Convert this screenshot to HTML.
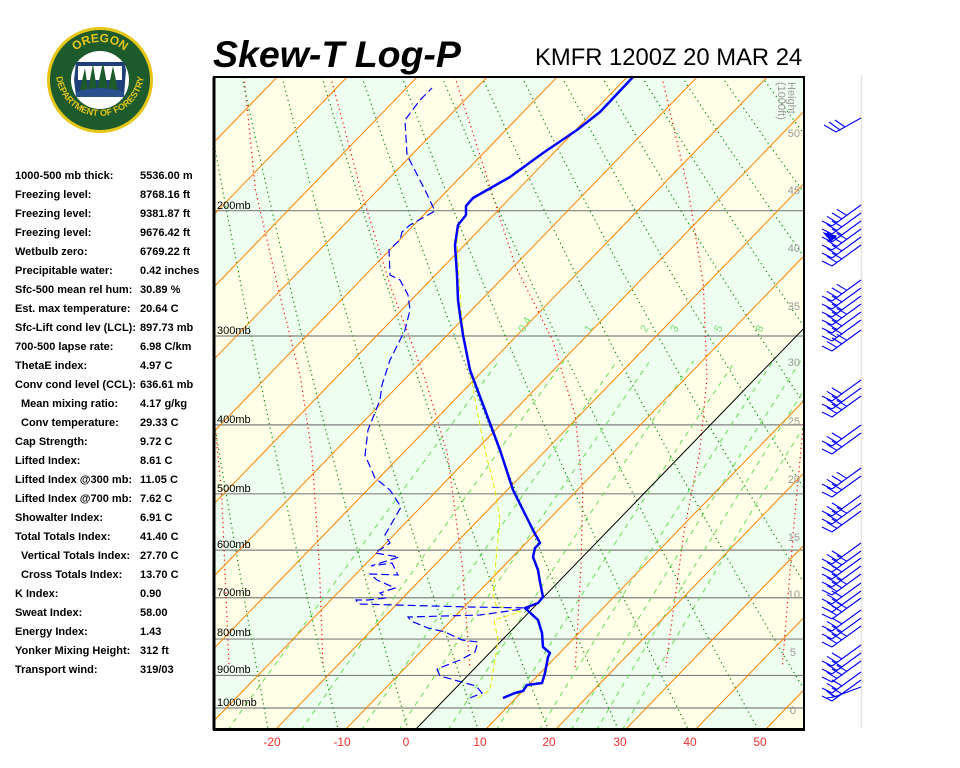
<!DOCTYPE html>
<html><head><meta charset="utf-8">
<style>
html,body{margin:0;padding:0;background:#fff;}
body{width:960px;height:768px;overflow:hidden;position:relative;font-family:"Liberation Sans",Arial,sans-serif;}
.t{position:absolute;font-size:11px;font-weight:bold;color:#000;white-space:nowrap;line-height:13px;}
</style></head><body>
<svg id="s" width="960" height="768" xmlns="http://www.w3.org/2000/svg" style="position:absolute;left:0;top:0">
<defs><clipPath id="c"><rect x="214" y="77" width="590" height="652"/></clipPath>
<path id="arcTop" d="M62,80 A38,38 0 0 1 138,80"/>
<path id="arcBot" d="M56,72 A44,44 0 0 0 144,72"/>
</defs>
<g id="bands" clip-path="url(#c)"></g>
<g id="grid" clip-path="url(#c)"></g>
<g id="prof" clip-path="url(#c)"></g>
<g font-family="Liberation Sans,Arial,sans-serif" font-size="11" fill="#000">
<text x="217" y="209">200mb</text><text x="217" y="334">300mb</text><text x="217" y="423">400mb</text>
<text x="217" y="492">500mb</text><text x="217" y="548">600mb</text><text x="217" y="596">700mb</text>
<text x="217" y="636">800mb</text><text x="217" y="673">900mb</text><text x="217" y="706">1000mb</text>
</g>
<g font-family="Liberation Sans,Arial,sans-serif" font-size="11" fill="#77dd77">
<text transform="translate(524,333) rotate(-60)">0.4</text>
<text transform="translate(590,333) rotate(-60)">1</text>
<text transform="translate(646,333) rotate(-60)">2</text>
<text transform="translate(676,333) rotate(-60)">3</text>
<text transform="translate(720,333) rotate(-60)">5</text>
<text transform="translate(761,333) rotate(-60)">8</text>
</g>
<g font-family="Liberation Sans,Arial,sans-serif" font-size="11" fill="#999" text-anchor="end">
<text x="800" y="137">50</text><text x="800" y="194">45</text><text x="800" y="252">40</text>
<text x="800" y="310">35</text><text x="800" y="366">30</text><text x="800" y="425">25</text>
<text x="800" y="483">20</text><text x="800" y="541">15</text><text x="800" y="598">10</text>
<text x="796" y="656">5</text><text x="796" y="714">0</text>
<text transform="translate(788,82) rotate(90)" text-anchor="start">Height</text>
<text transform="translate(778,82) rotate(90)" text-anchor="start">(1000ft)</text>
</g>
<rect x="214" y="77" width="590" height="652" fill="none" stroke="#000" stroke-width="2"/>
<line x1="214" y1="77" x2="214" y2="730" stroke="#000" stroke-width="3"/>
<line x1="213" y1="729.5" x2="805" y2="729.5" stroke="#000" stroke-width="3"/>
<line x1="861.5" y1="75" x2="861.5" y2="728" stroke="#e4e4e4" stroke-width="1.5"/>
<g font-family="Liberation Sans,Arial,sans-serif" font-size="12" fill="#f03030" text-anchor="middle">
<text x="272" y="746">-20</text><text x="342" y="746">-10</text><text x="406" y="746">0</text>
<text x="480" y="746">10</text><text x="549" y="746">20</text><text x="620" y="746">30</text>
<text x="690" y="746">40</text><text x="760" y="746">50</text>
</g>
<g id="barbs" stroke="#0000ff" stroke-width="1.1" fill="none"></g>
<text x="213" y="67" font-family="Liberation Sans,Arial,sans-serif" font-size="37.5" font-weight="bold" font-style="italic">Skew-T Log-P</text>
<text x="535" y="65" font-family="Liberation Sans,Arial,sans-serif" font-size="23.8">KMFR 1200Z 20 MAR 24</text>
<g>
<circle cx="100" cy="80" r="53" fill="#e6c619"/>
<circle cx="100" cy="80" r="50" fill="#1d5a2c"/>
<circle cx="100" cy="80" r="29" fill="#fff"/>
<path d="M76,62 L124,62 L126,70 L124,96 L76,96 L74,80 Z" fill="#1f3f78"/>
<path d="M78,66 L122,66 L122,80 L78,80 Z" fill="#fff"/>
<path d="M80,90 L85,68 L88,90 Z M88,90 L93,64 L97,90 Z M97,90 L103,62 L108,90 Z M108,90 L113,66 L118,90 Z" fill="#1d5a2c"/>
<path d="M76,92 Q100,84 124,92 L124,97 L76,97 Z" fill="#2a4f8f"/>
<g font-family="Liberation Sans,Arial,sans-serif" font-weight="bold" fill="#e6c619">
<text font-size="12"><textPath href="#arcTop" startOffset="50%" text-anchor="middle">OREGON</textPath></text>
<text font-size="9"><textPath href="#arcBot" startOffset="50%" text-anchor="middle">DEPARTMENT OF FORESTRY</textPath></text>
</g>
</g>
</svg>
<div class="t" style="left:15px;top:170px">1000-500 mb thick:</div><div class="t" style="left:140px;top:170px">5536.00 m</div>
<div class="t" style="left:15px;top:189px">Freezing level:</div><div class="t" style="left:140px;top:189px">8768.16 ft</div>
<div class="t" style="left:15px;top:208px">Freezing level:</div><div class="t" style="left:140px;top:208px">9381.87 ft</div>
<div class="t" style="left:15px;top:227px">Freezing level:</div><div class="t" style="left:140px;top:227px">9676.42 ft</div>
<div class="t" style="left:15px;top:246px">Wetbulb zero:</div><div class="t" style="left:140px;top:246px">6769.22 ft</div>
<div class="t" style="left:15px;top:265px">Precipitable water:</div><div class="t" style="left:140px;top:265px">0.42 inches</div>
<div class="t" style="left:15px;top:284px">Sfc-500 mean rel hum:</div><div class="t" style="left:140px;top:284px">30.89 %</div>
<div class="t" style="left:15px;top:303px">Est. max temperature:</div><div class="t" style="left:140px;top:303px">20.64 C</div>
<div class="t" style="left:15px;top:322px">Sfc-Lift cond lev (LCL):</div><div class="t" style="left:140px;top:322px">897.73 mb</div>
<div class="t" style="left:15px;top:341px">700-500 lapse rate:</div><div class="t" style="left:140px;top:341px">6.98 C/km</div>
<div class="t" style="left:15px;top:360px">ThetaE index:</div><div class="t" style="left:140px;top:360px">4.97 C</div>
<div class="t" style="left:15px;top:379px">Conv cond level (CCL):</div><div class="t" style="left:140px;top:379px">636.61 mb</div>
<div class="t" style="left:21px;top:398px">Mean mixing ratio:</div><div class="t" style="left:140px;top:398px">4.17 g/kg</div>
<div class="t" style="left:21px;top:417px">Conv temperature:</div><div class="t" style="left:140px;top:417px">29.33 C</div>
<div class="t" style="left:15px;top:436px">Cap Strength:</div><div class="t" style="left:140px;top:436px">9.72 C</div>
<div class="t" style="left:15px;top:455px">Lifted Index:</div><div class="t" style="left:140px;top:455px">8.61 C</div>
<div class="t" style="left:15px;top:474px">Lifted Index @300 mb:</div><div class="t" style="left:140px;top:474px">11.05 C</div>
<div class="t" style="left:15px;top:493px">Lifted Index @700 mb:</div><div class="t" style="left:140px;top:493px">7.62 C</div>
<div class="t" style="left:15px;top:512px">Showalter Index:</div><div class="t" style="left:140px;top:512px">6.91 C</div>
<div class="t" style="left:15px;top:531px">Total Totals Index:</div><div class="t" style="left:140px;top:531px">41.40 C</div>
<div class="t" style="left:21px;top:550px">Vertical Totals Index:</div><div class="t" style="left:140px;top:550px">27.70 C</div>
<div class="t" style="left:21px;top:569px">Cross Totals Index:</div><div class="t" style="left:140px;top:569px">13.70 C</div>
<div class="t" style="left:15px;top:588px">K Index:</div><div class="t" style="left:140px;top:588px">0.90</div>
<div class="t" style="left:15px;top:607px">Sweat Index:</div><div class="t" style="left:140px;top:607px">58.00</div>
<div class="t" style="left:15px;top:626px">Energy Index:</div><div class="t" style="left:140px;top:626px">1.43</div>
<div class="t" style="left:15px;top:645px">Yonker Mixing Height:</div><div class="t" style="left:140px;top:645px">312 ft</div>
<div class="t" style="left:15px;top:664px">Transport wind:</div><div class="t" style="left:140px;top:664px">319/03</div>
<script>
(function(){
var NS="http://www.w3.org/2000/svg";
function el(g,tag,a){var e=document.createElementNS(NS,tag);for(var k in a)e.setAttribute(k,a[k]);g.appendChild(e);return e;}
var Y=function(p){return 708-309*Math.log(1000/p);};
var X=function(T,p){return 416+7*T+0.968*(729-Y(p));};
var PB=1075,PT=128;
var bands=document.getElementById('bands'),grid=document.getElementById('grid'),prof=document.getElementById('prof');
el(bands,'rect',{x:214,y:77,width:590,height:652,fill:'#efffef'});
for(var T=-140;T<=60;T+=10){
 var odd=Math.abs(Math.floor(T/10))%2==1;
 if(!odd)continue;
 var pts=[X(T,PB),Y(PB),X(T+10,PB),Y(PB),X(T+10,PT),Y(PT),X(T,PT),Y(PT)].map(function(v){return v.toFixed(1)}).join(' ');
 el(bands,'polygon',{points:pts,fill:'#ffffe8'});
}
function poly(g,arr,st){var s=arr.map(function(q){return q[0].toFixed(1)+','+q[1].toFixed(1)}).join(' ');var a={points:s,fill:'none'};for(var k in st)a[k]=st[k];return el(g,'polyline',a);}
[1000,900,800,700,600,500,400,300,200].forEach(function(p){el(grid,'line',{x1:214,x2:804,y1:Y(p),y2:Y(p),stroke:'#808080','stroke-width':1.2});});
[0.4,1,2,3,5,8,12,16,20,25].forEach(function(w){var a=[];for(var p=PB;p>=320;p-=10){var e=w*p/(622+w);var l=Math.log(e/6.112);var Td=243.5*l/(17.67-l);a.push([X(Td,p),Y(p)]);}poly(grid,a,{stroke:'#66dd55','stroke-width':1,'stroke-dasharray':'5,5'});});
var f=2.657;
var reds=[
[[80,0],[110,300],[170,560],[230,800],[260,1000],[280,1300],[290,1568]],
[[310,0],[390,300],[470,560],[560,800],[620,1000],[660,1300],[680,1568]],
[[640,0],[720,250],[800,500],[900,700],[960,900],[980,1100],[975,1300],[960,1568]],
[[1190,0],[1260,300],[1300,550],[1310,800],[1290,1000],[1250,1200],[1200,1568]],
[[1600,600],[1568,900],[1540,1200],[1510,1568]],
[[-60,300],[-20,700],[20,1100],[40,1568]]];
reds.forEach(function(r){poly(grid,r.map(function(q){return [214+q[0]/f,77+q[1]/f];}),{stroke:'#ff0000','stroke-width':1.2,'stroke-dasharray':'1.2,3.5'});});
for(var k=-8;k<=14;k++){var xt=282+40*k,xb=478+70*k;var a=[];for(var i=0;i<=10;i++){var u=i/10;a.push([xt+(xb-xt)*(u*0.85+0.15*u*u),77+652*u]);}poly(grid,a,{stroke:'#008800','stroke-width':1.2,'stroke-dasharray':'1.2,3.5'});}
for(var T=-140;T<=60;T+=10){el(grid,'line',{x1:X(T,PB),y1:Y(PB),x2:X(T,PT),y2:Y(PT),stroke:T==0?'#000':'#ff8000','stroke-width':1});}
var yel=[[478,698],[490,690],[495,660],[498,640],[494,620],[520,612],[496,605],[493,595],[496,560],[500,520],[495,490],[485,450],[475,400],[468,360],[462,320],[459,280],[457,240],[459,225]];
poly(prof,yel,{stroke:'#e8e800','stroke-width':1,'stroke-dasharray':'5,3'});
var dew=[[470,698],[482,693],[476,686],[458,681],[440,676],[437,669],[460,660],[475,652],[478,642],[462,640],[445,632],[428,628],[411,621],[408,617],[480,615],[530,608],[470,607],[358,604],[356,600],[368,600],[386,598],[380,593],[395,588],[377,580],[370,574],[398,575],[392,563],[371,566],[399,557],[375,553],[390,543],[385,535],[401,507],[390,490],[375,478],[365,455],[368,430],[380,400],[382,385],[390,360],[405,330],[410,310],[408,295],[400,280],[390,275],[389,250],[400,240],[402,232],[410,225],[435,211],[425,190],[407,155],[405,120],[420,100],[432,88]];
poly(prof,dew,{stroke:'#0000ff','stroke-width':1.2,'stroke-dasharray':'8,4'});
var tmp=[[503,698],[515,693],[523,691],[527,685],[542,683],[545,673],[548,657],[550,653],[543,647],[542,633],[538,620],[525,608],[538,603],[543,597],[540,582],[538,570],[533,557],[535,548],[540,543],[533,530],[528,520],[513,490],[500,450],[485,410],[470,370],[463,335],[460,315],[458,300],[457,275],[455,245],[458,225],[462,220],[466,215],[466,206],[473,198],[510,177],[543,153],[577,130],[600,112],[633,77]];
poly(prof,tmp,{stroke:'#0000ff','stroke-width':2.5,'stroke-linejoin':'round'});
var bg=document.getElementById('barbs');
var tops=[205,213,221,229,237,245,280,288,296,304,312,320,330,380,388,396,425,433,468,476,495,503,511,543,551,558,566,574,583,591,598,610,618,626,645,653,661,672,680];
tops.forEach(function(t,i){
 var x0=861,y0=t,x1=832,y1=t+21;
 el(bg,'line',{x1:x0,y1:y0,x2:x1,y2:y1});
 var n=(i%3==0)?4:3;
 for(var k=0;k<n;k++){var fr=1-k*0.17;var bx=x0+(x1-x0)*fr,by=y0+(y1-y0)*fr;el(bg,'line',{x1:bx,y1:by,x2:bx-10,y2:by-(k==0?5:6)});}
});
el(bg,'line',{x1:861,y1:118,x2:836,y2:132});
el(bg,'line',{x1:836,y1:132,x2:824,y2:125});el(bg,'line',{x1:840,y1:130,x2:829,y2:122});el(bg,'line',{x1:845,y1:127,x2:835,y2:120});
el(bg,'polygon',{points:'824,233 836,236 831,241',fill:'#0000ff'});
el(bg,'line',{x1:861,y1:687,x2:834,y2:697});el(bg,'line',{x1:834,y1:697,x2:826,y2:690});el(bg,'line',{x1:834,y1:697,x2:826,y2:698});
})();
</script>
</body></html>
